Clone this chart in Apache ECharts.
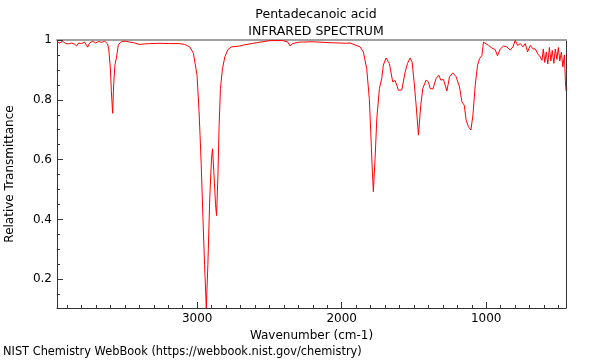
<!DOCTYPE html>
<html>
<head>
<meta charset="utf-8">
<script src="https://cdn.jsdelivr.net/npm/echarts@6/dist/echarts.min.js"></script>
<style>
html,body{margin:0;padding:0;background:#fff;}
#chart{width:600px;height:360px;}
</style>
</head>
<body>
<div id="chart"></div>
<script>
// Wavenumbers (cm-1)
const wavenumbers = [
  3970, 3952, 3931, 3910, 3889, 3869, 3848, 3834, 3820, 3800, 3779, 3758, 3744, 3723, 3702, 3682, 3661, 3640, 3620,
  3612, 3600, 3594, 3585, 3578, 3569, 3559, 3545, 3522, 3494, 3467, 3432, 3398, 3363, 3328, 3259, 3190, 3121,
  3086, 3072, 3051, 3026, 3017, 3001, 2987, 2980, 2972, 2960, 2949, 2937, 2926, 2913, 2901, 2894, 2885, 2873,
  2866, 2857, 2848, 2839, 2825, 2809, 2786, 2762, 2705, 2682, 2589, 2497, 2407, 2372, 2358, 2344, 2324, 2289,
  2199, 2081, 1965, 1942, 1873, 1850, 1827, 1809, 1799, 1790, 1781, 1769, 1757, 1739, 1723, 1712, 1693, 1670,
  1647, 1631, 1619, 1608, 1584, 1561, 1545, 1527, 1513, 1499, 1485, 1469, 1453, 1439, 1416, 1400, 1388, 1369,
  1347, 1328, 1314, 1296, 1272, 1254, 1231, 1208, 1185, 1168, 1152, 1139, 1123, 1106, 1092, 1076, 1060, 1046,
  1030, 1019, 1007, 984, 960, 938, 922, 903, 880, 857, 834, 815, 799, 783, 764, 746, 730, 714, 695, 676, 660,
  645, 626, 614, 605, 595, 584, 574, 563, 553, 543, 532, 522, 511, 501, 491, 480, 470, 459, 452, 448
];
// Relative transmittance values
const transmittance = [
  0.995, 0.990, 0.996, 0.988, 0.987, 0.990, 0.986, 0.980, 0.990, 0.988, 0.993, 0.976, 0.990, 0.996, 0.990, 0.995, 0.992, 0.996, 0.987,
  0.970, 0.900, 0.830, 0.755, 0.850, 0.917, 0.940, 0.985, 0.995, 0.996, 0.993, 0.990, 0.985, 0.987, 0.988, 0.989, 0.988, 0.988,
  0.985, 0.982, 0.977, 0.955, 0.949, 0.882, 0.760, 0.680, 0.583, 0.404, 0.250, 0.104, 0.250, 0.471, 0.604, 0.636, 0.560, 0.450,
  0.413, 0.538, 0.717, 0.838, 0.904, 0.943, 0.969, 0.977, 0.980, 0.983, 0.991, 0.998, 0.998, 0.993, 0.980, 0.987, 0.990, 0.993,
  0.994, 0.991, 0.989, 0.990, 0.977, 0.960, 0.904, 0.804, 0.693, 0.582, 0.493, 0.604, 0.738, 0.838, 0.871, 0.916, 0.940, 0.921,
  0.860, 0.865, 0.849, 0.832, 0.833, 0.893, 0.921, 0.940, 0.927, 0.860, 0.782, 0.682, 0.782, 0.838, 0.866, 0.860, 0.838, 0.836,
  0.871, 0.882, 0.866, 0.868, 0.830, 0.877, 0.890, 0.877, 0.843, 0.793, 0.782, 0.732, 0.710, 0.699, 0.749, 0.849, 0.916, 0.938,
  0.948, 0.993, 0.999, 0.982, 0.973, 0.968, 0.947, 0.970, 0.980, 0.977, 0.966, 0.977, 0.999, 0.982, 0.988, 0.977, 0.988, 0.960, 0.982, 0.970, 0.970,
  0.955, 0.943, 0.932, 0.970, 0.925, 0.960, 0.920, 0.975, 0.930, 0.965, 0.922, 0.970, 0.935, 0.975, 0.930, 0.960, 0.910, 0.950, 0.860, 0.830
];
const xMajorTicks = [1000, 2000, 3000];
const xMinorTicks = [500, 600, 700, 800, 900, 1100, 1200, 1300, 1400, 1500, 1600, 1700, 1800, 1900,
  2100, 2200, 2300, 2400, 2500, 2600, 2700, 2800, 2900, 3100, 3200, 3300, 3400, 3500, 3600, 3700, 3800, 3900];
const yMajorTicks = [0.2, 0.4, 0.6, 0.8, 1];
const yMinorTicks = [0.15, 0.25, 0.3, 0.35, 0.45, 0.5, 0.55, 0.65, 0.7, 0.75, 0.85, 0.9, 0.95];

const seriesData = wavenumbers.map((w, i) => [w, transmittance[i]]);
const FONT = 'DejaVu Sans';
const X_MIN = 448, X_MAX = 3970, Y_MIN = 0.104, Y_MAX = 1;

const chart = echarts.init(document.getElementById('chart'), null, {renderer: 'canvas'});
chart.setOption({
  animation: false,
  backgroundColor: '#fff',
  textStyle: {fontFamily: FONT},
  title: {
    text: 'Pentadecanoic acid\nINFRARED SPECTRUM',
    left: 311, top: 1, textAlign: 'center',
    textStyle: {fontFamily: FONT, fontSize: 12.5, fontWeight: 'normal', color: '#000', lineHeight: 17}
  },
  grid: {left: 57, right: 34, top: 40, bottom: 52, outerBoundsMode: 'none', containLabel: false},
  xAxis: [
    {
      type: 'value', min: X_MIN, max: X_MAX, inverse: true, position: 'bottom',
      name: 'Wavenumber (cm-1)', nameLocation: 'middle', nameGap: 16,
      nameTextStyle: {fontFamily: FONT, fontSize: 12, color: '#000'},
      axisLine: {show: true, lineStyle: {color: '#333', width: 1}},
      axisTick: {show: true, inside: true, length: 6, customValues: xMajorTicks, lineStyle: {color: '#333'}},
      axisLabel: {show: true, customValues: xMajorTicks, margin: 5, fontFamily: FONT, fontSize: 12, color: '#000',
        formatter: v => String(Math.round(v))},
      splitLine: {show: false}
    },
    {
      type: 'value', min: X_MIN, max: X_MAX, inverse: true, position: 'bottom', gridIndex: 0,
      axisLine: {show: false},
      axisTick: {show: true, inside: true, length: 3, customValues: xMinorTicks, lineStyle: {color: '#333'}},
      axisLabel: {show: false},
      splitLine: {show: false}
    },
    {
      type: 'value', min: X_MIN, max: X_MAX, inverse: true, position: 'top', gridIndex: 0,
      axisLine: {show: true, lineStyle: {color: '#a0a0a0', width: 2}},
      axisTick: {show: false}, axisLabel: {show: false}, splitLine: {show: false}
    }
  ],
  yAxis: [
    {
      type: 'value', min: Y_MIN, max: Y_MAX, position: 'left',
      name: 'Relative Transmittance', nameLocation: 'middle', nameGap: 41, nameRotate: 90,
      nameTextStyle: {fontFamily: FONT, fontSize: 12, color: '#000'},
      axisLine: {show: true, lineStyle: {color: '#333', width: 1}},
      axisTick: {show: true, inside: true, length: 6, customValues: yMajorTicks, lineStyle: {color: '#333'}},
      axisLabel: {show: true, customValues: yMajorTicks, margin: 5, fontFamily: FONT, fontSize: 12, color: '#000',
        formatter: v => String(+(+v).toFixed(2))},
      splitLine: {show: false}
    },
    {
      type: 'value', min: Y_MIN, max: Y_MAX, position: 'left',
      axisLine: {show: false},
      axisTick: {show: true, inside: true, length: 3, customValues: yMinorTicks, lineStyle: {color: '#333'}},
      axisLabel: {show: false}, splitLine: {show: false}
    },
    {
      type: 'value', min: Y_MIN, max: Y_MAX, position: 'right',
      axisLine: {show: true, lineStyle: {color: '#333', width: 1}},
      axisTick: {show: false}, axisLabel: {show: false}, splitLine: {show: false}
    }
  ],
  graphic: [{
    type: 'text', left: 3, top: 347,
    style: {text: 'NIST Chemistry WebBook (https://webbook.nist.gov/chemistry)', font: '11.4px "DejaVu Sans"', fill: '#000'}
  }],
  series: [{
    type: 'line', xAxisIndex: 0, yAxisIndex: 0,
    data: seriesData, showSymbol: false, symbol: 'none', smooth: false, sampling: null,
    lineStyle: {color: '#ff0000', width: 1}, clip: true
  }]
});
</script>
</body>
</html>
